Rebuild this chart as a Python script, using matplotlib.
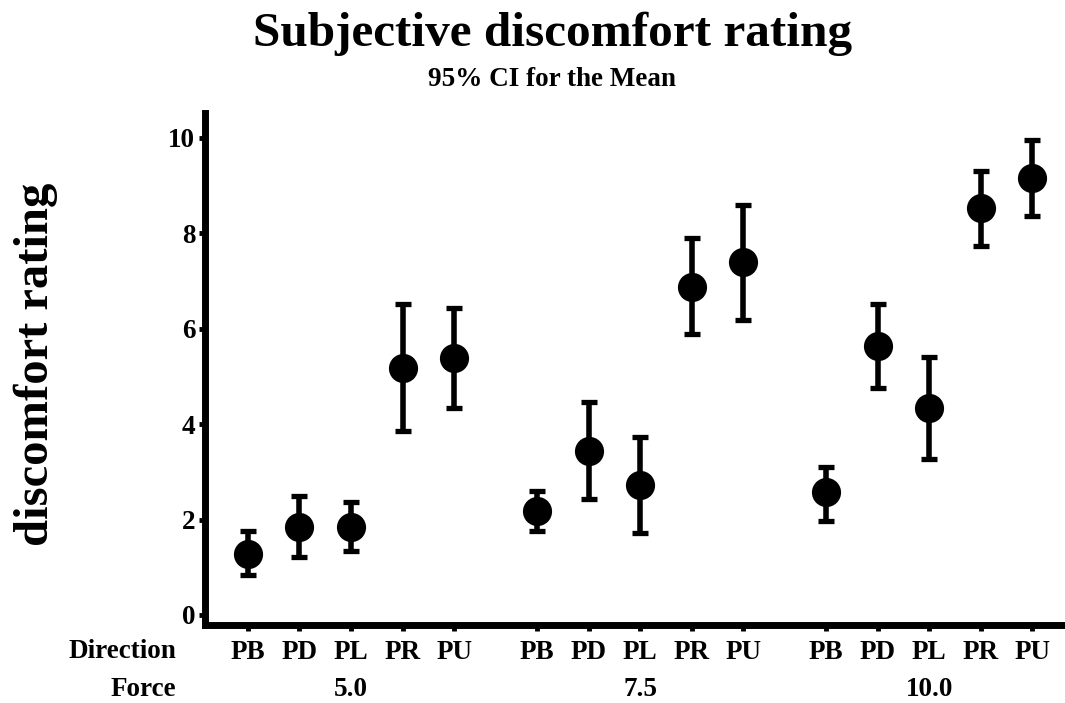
import matplotlib
matplotlib.use("Agg")
import matplotlib.pyplot as plt
import matplotlib.transforms as mtransforms
import numpy as np

plt.rcParams['font.family'] = ['Liberation Serif', 'DejaVu Serif']
plt.rcParams['font.weight'] = 'bold'

# Discomfort rating means with 95% CI bounds, by force level and push direction
forces = ["5.0", "7.5", "10.0"]
directions = ["PB", "PD", "PL", "PR", "PU"]

mean_5_0 = [1.28, 1.85, 1.85, 5.17, 5.38]
lower_5_0 = [0.83, 1.21, 1.34, 3.86, 4.33]
upper_5_0 = [1.76, 2.49, 2.36, 6.51, 6.43]

mean_7_5 = [2.17, 3.44, 2.73, 6.88, 7.39]
lower_7_5 = [1.76, 2.43, 1.72, 5.88, 6.18]
upper_7_5 = [2.59, 4.46, 3.73, 7.91, 8.59]

mean_10_0 = [2.57, 5.63, 4.33, 8.53, 9.17]
lower_10_0 = [1.98, 4.75, 3.28, 7.73, 8.37]
upper_10_0 = [3.10, 6.51, 5.41, 9.30, 9.96]

means = [mean_5_0, mean_7_5, mean_10_0]
lowers = [lower_5_0, lower_7_5, lower_10_0]
uppers = [upper_5_0, upper_7_5, upper_10_0]

fig = plt.figure(figsize=(10.65, 7.03), dpi=100)
ax = fig.add_axes([0.1925, 0.111, 0.8075, 0.728])

group_step = len(directions) + 0.6
xpos_all, labels_all, centers = [], [], []
for g, force in enumerate(forces):
    xs = np.arange(len(directions)) + g * group_step
    m = np.array(means[g])
    lo = np.array(lowers[g])
    hi = np.array(uppers[g])
    ax.errorbar(xs, m, yerr=[m - lo, hi - m], fmt='none', ecolor='black',
                elinewidth=4, capsize=6, capthick=3.8, zorder=2)
    ax.plot(xs, m, 'o', color='black', markersize=21, markeredgewidth=0,
            zorder=3)
    xpos_all.extend(xs)
    labels_all.extend(directions)
    centers.append(xs[len(xs) // 2])

ax.set_xlim(-0.83, 15.83)
ax.set_ylim(-0.21, 10.52)
ax.set_yticks([0, 2, 4, 6, 8, 10])
ax.set_yticklabels(["0", "2", "4", "6", "8", "10"])
ax.set_xticks(xpos_all)
ax.set_xticklabels(labels_all)

for side in ("top", "right"):
    ax.spines[side].set_visible(False)
for side in ("left", "bottom"):
    ax.spines[side].set_linewidth(5)

ax.tick_params(axis='y', length=4, width=3.5, labelsize=19.5, pad=3)
ax.tick_params(axis='x', length=4, width=3.5, labelsize=19.5, pad=7)
for lab in ax.get_xticklabels() + ax.get_yticklabels():
    lab.set_fontweight('bold')

trans = mtransforms.blended_transform_factory(ax.transData, fig.transFigure)
for c, force in zip(centers, forces):
    ax.text(c, 1 - 690 / 703, force, transform=trans, ha='center', va='center',
            fontsize=19.5, fontweight='bold')

fig.text(176 / 1065, 1 - 651 / 703, "Direction", ha='right', va='center',
         fontsize=19.5, fontweight='bold')
fig.text(176 / 1065, 1 - 690 / 703, "Force", ha='right', va='center',
         fontsize=19.5, fontweight='bold')

fig.text(36 / 1065, 1 - 364 / 703, "discomfort rating", rotation=90,
         ha='center', va='center', fontsize=35, fontweight='bold')

fig.text(553 / 1065, 1 - 34 / 703, "Subjective discomfort rating",
         ha='center', va='center', fontsize=35.5, fontweight='bold')
fig.text(552 / 1065, 1 - 79 / 703, "95% CI for the Mean",
         ha='center', va='center', fontsize=19.5, fontweight='bold')

fig.savefig("out.png", dpi=100, facecolor='white')
